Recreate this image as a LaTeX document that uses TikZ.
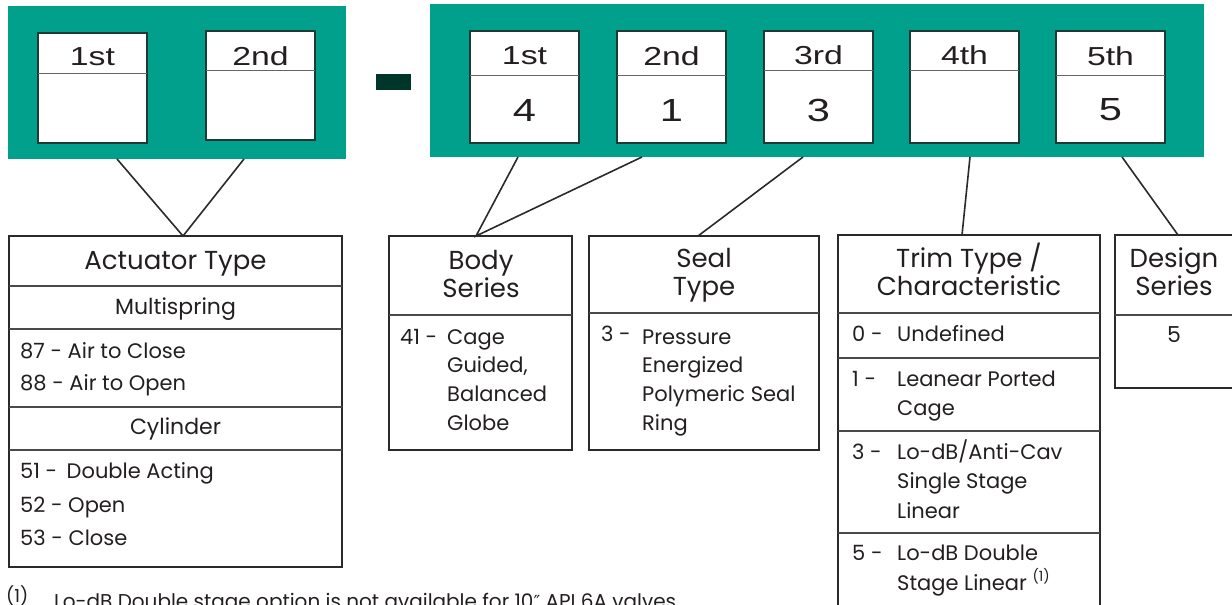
\documentclass[tikz,border=0pt]{standalone}
\usepackage{fontspec}
\setmainfont{Poppins}
\newfontfamily\hdrfont{Liberation Sans}[FakeStretch=1.3]
\newfontfamily\djvfont{DejaVu Sans}
\usetikzlibrary{calc}
\definecolor{panelc}{HTML}{00A08C}
\definecolor{dashc}{HTML}{00352A}
\definecolor{bord}{HTML}{2A2A2A}
\definecolor{cellb}{HTML}{1E3A33}
\definecolor{txt}{HTML}{231F20}
\begin{document}
\begin{tikzpicture}[x=1pt,y=-1pt,
 panel/.style={fill=panelc, draw=none, anchor=north west, inner sep=0, outer sep=0},
 cell/.style={fill=white, draw=cellb, line width=2pt, anchor=north west, inner sep=0, outer sep=0, minimum width=109, minimum height=111},
 hsep/.style={draw=black!60, line width=1pt},
 hlab/.style={font=\hdrfont\fontsize{26}{28}\selectfont, text=txt, inner sep=0, anchor=center},
 hdig/.style={font=\hdrfont\fontsize{32}{34}\selectfont, text=txt, inner sep=0, anchor=center},
 tbl/.style={draw=bord, line width=2.2pt, anchor=north west, inner sep=0, outer sep=0},
 tsep/.style={draw=bord!85, line width=1.3pt},
 ttl/.style={font=\fontsize{26}{28}\selectfont, text=txt, inner sep=0, anchor=mid},
 sub/.style={font=\fontsize{22}{24}\selectfont, text=txt, inner sep=0, anchor=mid},
 itm/.style={font=\fontsize{21}{23}\selectfont, text=txt, inner sep=0, anchor=mid west},
 foot/.style={font=\fontsize{20}{22}\selectfont, text=txt, inner sep=0, anchor=base west},
 con/.style={draw=bord, line width=1.6pt}
]
\useasboundingbox (0,0) rectangle (1232,605);
\clip (0,0) rectangle (1232,605);

% panels
\node[panel, minimum width=338, minimum height=153] (pl) at (8,6) {};
\node[panel, minimum width=774, minimum height=153] (pr) at (430,4) {};
\node[fill=dashc, draw=none, anchor=north west, inner sep=0, minimum width=35, minimum height=16] (dash) at (376,74) {};

% header cells
\node[cell, minimum height=110] (L1) at (38,33) {};
\node[cell, minimum height=109] (L2) at (206,31) {};
\node[cell, minimum height=112] (R1) at (470,31) {};
\node[cell, minimum height=112] (R2) at (617,31) {};
\node[cell, minimum height=112] (R3) at (764,31) {};
\node[cell, minimum height=112] (R4) at (910,31) {};
\node[cell, minimum height=112] (R5) at (1056,31) {};
\draw[hsep] ($(L1.north west)+(0,40)$) -- ($(L1.north east)+(0,40)$);
\draw[hsep] ($(L2.north west)+(0,39)$) -- ($(L2.north east)+(0,39)$);
\draw[hsep] ($(R1.north west)+(0,44)$) -- ($(R1.north east)+(0,44)$);
\draw[hsep] ($(R2.north west)+(0,44)$) -- ($(R2.north east)+(0,44)$);
\draw[hsep] ($(R3.north west)+(0,39)$) -- ($(R3.north east)+(0,39)$);
\draw[hsep] ($(R4.north west)+(0,39)$) -- ($(R4.north east)+(0,39)$);
\draw[hsep] ($(R5.north west)+(0,44)$) -- ($(R5.north east)+(0,44)$);

\node[hlab] (L1l) at (92.5,57) {1st};
\node[hlab] (L2l) at (260.5,56) {2nd};
\node[hlab] (R1l) at (524.5,56) {1st};
\node[hdig] (R1d) at (524.5,110) {4};
\node[hlab] (R2l) at (671.5,56) {2nd};
\node[hdig] (R2d) at (671.5,110) {1};
\node[hlab] (R3l) at (818.5,55) {3rd};
\node[hdig] (R3d) at (818.5,110) {3};
\node[hlab] (R4l) at (964.5,55) {4th};
\node[hlab] (R5l) at (1110.5,56) {5th};
\node[hdig] (R5d) at (1110.5,110) {5};

% tables
\node[tbl, minimum width=333, minimum height=331] (act) at (9,236) {};
\node[tbl, minimum width=183, minimum height=214] (body) at (389,236) {};
\node[tbl, minimum width=230, minimum height=214] (seal) at (589,236) {};
\node[tbl, minimum width=262, minimum height=420] (trim) at (838,235) {};
\node[tbl, minimum width=120, minimum height=153] (design) at (1115,235) {};

\foreach \d in {50,93,171,214}
  \draw[tsep] ($(act.north west)+(0,\d)$) -- ($(act.north east)+(0,\d)$);
\draw[tsep] ($(body.north west)+(0,79)$) -- ($(body.north east)+(0,79)$);
\draw[tsep] ($(seal.north west)+(0,77)$) -- ($(seal.north east)+(0,77)$);
\foreach \d in {78,123,196,298}
  \draw[tsep] ($(trim.north west)+(0,\d)$) -- ($(trim.north east)+(0,\d)$);
\draw[tsep] ($(design.north west)+(0,80)$) -- ($(design.north east)+(0,80)$);

% connectors
\draw[con] ($(pl.south west)+(109,0)$) -- ($(act.north west)+(174,0)$) -- ($(pl.south west)+(236,0)$);
\draw[con] ($(pr.south west)+(88,0)$) -- ($(body.north west)+(87,0)$) -- ($(pr.south west)+(212,0)$);
\draw[con] ($(pr.south west)+(373,0)$) -- ($(seal.north west)+(109,0)$);
\draw[con] ($(pr.south west)+(540,0)$) -- ($(trim.north west)+(124,0)$);
\draw[con] ($(pr.south west)+(692,0)$) -- ($(design.north west)+(63,0)$);

% actuator text
\node[ttl] (a0) at (175.5,267) {Actuator Type};
\node[sub] (a1) at (175.5,312) {Multispring};
\node[itm] (a2) at (20,356) {87 - Air to Close};
\node[itm] (a3) at (20,388) {88 - Air to Open};
\node[sub] (a4) at (175.5,432) {Cylinder};
\node[itm] (a5) at (20,476) {51 -\hspace{0.45em}Double Acting};
\node[itm] (a6) at (20,510) {52 - Open};
\node[itm] (a7) at (20,543) {53 - Close};

% body text
\node[ttl] (b0) at (481,267) {Body};
\node[ttl] (b1) at (481,295) {Series};
\node[itm] (b2) at (400,342) {41 -};
\node[itm] (b3) at (447,342) {Cage};
\node[itm] (b4) at (447,370) {Guided,};
\node[itm] (b5) at (447,399) {Balanced};
\node[itm] (b6) at (447,428) {Globe};

% seal text
\node[ttl] (s0) at (704,265) {Seal};
\node[ttl] (s1) at (704,293) {Type};
\node[itm] (s2) at (601,339) {3 -};
\node[itm] (s3) at (642,342) {Pressure};
\node[itm] (s4) at (642,370) {Energized};
\node[itm] (s5) at (642,399) {Polymeric Seal};
\node[itm] (s6) at (642,428) {Ring};

% trim text
\node[ttl] (t0) at (969,265) {Trim Type /};
\node[ttl] (t1) at (969,293) {Characteristic};
\node[itm] (t2) at (852,339) {0 -};
\node[itm] (t3) at (897,339) {Undefined};
\node[itm] (t4) at (852,384) {1 -};
\node[itm] (t5) at (897,384) {Leanear Ported};
\node[itm] (t6) at (897,413) {Cage};
\node[itm] (t7) at (852,457) {3 -};
\node[itm] (t8) at (897,457) {Lo-dB/Anti-Cav};
\node[itm] (t9) at (897,486) {Single Stage};
\node[itm] (t10) at (897,516) {Linear};
\node[itm] (t11) at (852,558) {5 -};
\node[itm] (t12) at (897,558) {Lo-dB Double};
\node[itm] (t13) at (897,588) {Stage Linear \raisebox{0.45em}{\fontsize{14}{16}\selectfont(1)}};

% design text
\node[ttl] (d0) at (1174,265) {Design};
\node[ttl] (d1) at (1174,293) {Series};
\node[sub] (d2) at (1174,340) {5};

% footnote
\node[foot] (f0) at (6,606) {\raisebox{0.2em}{\fontsize{18}{20}\selectfont(1)}};
\node[foot] (f1) at (54,608) {Lo-dB Double stage option is not available for 10{\djvfont\fontsize{18}{20}\selectfont ″} API 6A valves.};
\end{tikzpicture}
\end{document}
